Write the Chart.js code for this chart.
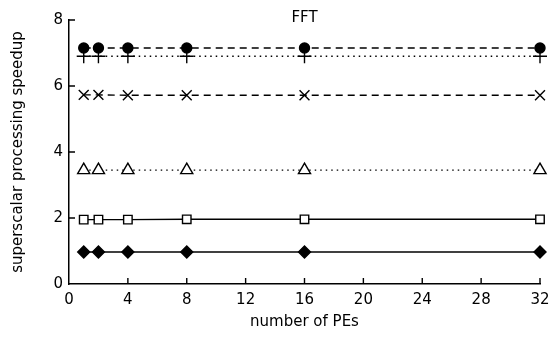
<!DOCTYPE html>
<html>
<head>
<meta charset="utf-8">
<script src="https://cdn.jsdelivr.net/npm/chart.js@4"></script>
<style>
  html, body { margin: 0; padding: 0; background: #fff; }
</style>
</head>
<body>
<canvas id="fftChart" width="560" height="339"></canvas>
<script>
// number of PEs
var pes = [1, 2, 4, 8, 16, 32];
// speedup per configuration
var seriesCircle = [7.15, 7.15, 7.15, 7.15, 7.15, 7.15];
var seriesPlus = [6.9, 6.9, 6.9, 6.9, 6.9, 6.9];
var seriesCross = [5.73, 5.73, 5.72, 5.72, 5.72, 5.72];
var seriesTriangle = [3.45, 3.45, 3.45, 3.45, 3.45, 3.45];
var seriesSquare = [1.95, 1.95, 1.95, 1.96, 1.96, 1.96];
var seriesDiamond = [0.97, 0.97, 0.97, 0.97, 0.97, 0.97];
var xTicks = [0, 4, 8, 12, 16, 20, 24, 28, 32];
var yTicks = [0, 2, 4, 6, 8];

function toPoints(vals) {
    return pes.map(function (x, i) { return {x: x, y: vals[i]}; });
}

function makeSet(vals, style, filled, dash, radius) {
    return {
        data: toPoints(vals),
        borderColor: '#000',
        backgroundColor: filled ? '#000' : '#fff',
        borderWidth: 1.4,
        borderDash: dash,
        pointStyle: style,
        pointRadius: radius,
        pointBorderWidth: 1.4,
        pointBorderColor: '#000',
        pointBackgroundColor: filled ? '#000' : '#fff',
        tension: 0,
        clip: false
    };
}

// ticks in the figure point into the plot, so draw them by hand
var inwardTicks = {
    id: 'inwardTicks',
    afterDraw: function (chart) {
        var ctx = chart.ctx;
        var xs = chart.scales.x, ys = chart.scales.y;
        var area = chart.chartArea;
        ctx.save();
        ctx.strokeStyle = '#000';
        ctx.lineWidth = 1.4;
        ctx.beginPath();
        xTicks.forEach(function (t) {
            if (t === 0) return;
            var px = xs.getPixelForValue(t);
            ctx.moveTo(px, area.bottom);
            ctx.lineTo(px, area.bottom - 6);
        });
        yTicks.forEach(function (t) {
            if (t === 0) return;
            var py = ys.getPixelForValue(t);
            ctx.moveTo(area.left, py);
            ctx.lineTo(area.left + 6, py);
        });
        ctx.stroke();
        ctx.fillStyle = '#000';
        ctx.font = '15px "DejaVu Sans"';
        ctx.textAlign = 'center';
        ctx.textBaseline = 'middle';
        ctx.fillText('FFT', xs.getPixelForValue(16), 18);
        ctx.restore();
    }
};

var ctx = document.getElementById('fftChart').getContext('2d');
var chart = new Chart(ctx, {
    type: 'line',
    data: {
        datasets: [
            makeSet(seriesCircle, 'circle', true, [7, 5], 5),
            makeSet(seriesPlus, 'cross', false, [1.5, 4], 7),
            makeSet(seriesCross, 'crossRot', false, [7, 5], 7),
            makeSet(seriesTriangle, 'triangle', false, [1.5, 4], 7),
            makeSet(seriesSquare, 'rect', false, [], 6),
            makeSet(seriesDiamond, 'rectRot', true, [], 6)
        ]
    },
    options: {
        responsive: false,
        animation: false,
        layout: { padding: { top: 20, right: 20, bottom: 0, left: 0 } },
        plugins: {
            legend: { display: false },
            tooltip: { enabled: false }
        },
        scales: {
            x: {
                type: 'linear',
                min: 0,
                max: 32,
                afterBuildTicks: function (axis) {
                    axis.ticks = xTicks.map(function (v) { return {value: v}; });
                },
                afterFit: function (axis) { axis.height = 55; },
                grid: { drawOnChartArea: false, drawTicks: false },
                border: { display: true, color: '#000', width: 1.5 },
                ticks: { color: '#000', padding: 7, font: { family: 'DejaVu Sans', size: 15 } },
                title: {
                    display: true,
                    text: 'number of PEs',
                    color: '#000',
                    font: { family: 'DejaVu Sans', size: 15 },
                    padding: { top: 2, bottom: 8 }
                }
            },
            y: {
                min: 0,
                max: 8,
                afterBuildTicks: function (axis) {
                    axis.ticks = yTicks.map(function (v) { return {value: v}; });
                },
                afterFit: function (axis) { axis.width = 69; },
                grid: { drawOnChartArea: false, drawTicks: false },
                border: { display: true, color: '#000', width: 1.5 },
                ticks: { color: '#000', padding: 6, font: { family: 'DejaVu Sans', size: 15 } },
                title: {
                    display: true,
                    text: 'superscalar processing speedup',
                    color: '#000',
                    font: { family: 'DejaVu Sans', size: 15 },
                    padding: { top: 9, bottom: 2 }
                }
            }
        }
    },
    plugins: [inwardTicks]
});
</script>
</body>
</html>
